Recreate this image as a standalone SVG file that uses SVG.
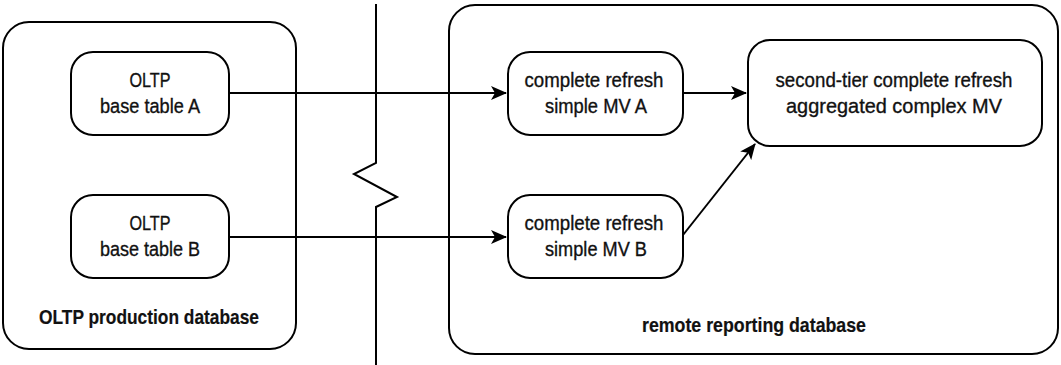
<svg xmlns="http://www.w3.org/2000/svg" width="1061" height="365" viewBox="0 0 1061 365">
<style>
.box{fill:#fff;stroke:#000;stroke-width:2}
.t{font-family:"Liberation Sans",Arial,sans-serif;font-size:20.5px;text-anchor:middle;fill:#111;stroke:#111;stroke-width:0.35}
.b{font-weight:bold;stroke-width:0.2}
.c{fill:none;stroke:#000;stroke-width:2}
</style>
<defs>
<marker id="ah" viewBox="0 0 16 14" refX="15" refY="7" markerWidth="16" markerHeight="14" markerUnits="userSpaceOnUse" orient="auto">
<path d="M0,0 L16,7 L0,14 L4,7 Z" fill="#000"/>
</marker>
</defs>
<rect width="1061" height="365" fill="#fff"/>
<g id="oltp-db">
<rect class="box" x="3" y="22" width="293" height="327" rx="26"/>
<text class="t b" x="149" y="324" textLength="220" lengthAdjust="spacingAndGlyphs">OLTP production database</text>
</g>
<g id="remote-db">
<rect class="box" x="449" y="5" width="609" height="349" rx="26"/>
<text class="t b" x="754" y="332" textLength="224" lengthAdjust="spacingAndGlyphs">remote reporting database</text>
</g>
<g id="separator">
<path class="c" d="M376,4 V163 L354,174 L397,197 L376,207 V365"/>
</g>
<g id="base-a">
<rect class="box" x="71" y="52" width="158" height="83" rx="22"/>
<text class="t" x="150" y="87" textLength="41" lengthAdjust="spacingAndGlyphs">OLTP</text>
<text class="t" x="150" y="113" textLength="100" lengthAdjust="spacingAndGlyphs">base table A</text>
</g>
<g id="base-b">
<rect class="box" x="71" y="195" width="158" height="83" rx="22"/>
<text class="t" x="150" y="230" textLength="41" lengthAdjust="spacingAndGlyphs">OLTP</text>
<text class="t" x="150" y="256" textLength="100" lengthAdjust="spacingAndGlyphs">base table B</text>
</g>
<g id="mv-a">
<rect class="box" x="508" y="52" width="175" height="83" rx="22"/>
<text class="t" x="594" y="87" textLength="139" lengthAdjust="spacingAndGlyphs">complete refresh</text>
<text class="t" x="596" y="113" textLength="102" lengthAdjust="spacingAndGlyphs">simple MV A</text>
</g>
<g id="mv-b">
<rect class="box" x="508" y="195" width="175" height="83" rx="22"/>
<text class="t" x="594" y="230" textLength="139" lengthAdjust="spacingAndGlyphs">complete refresh</text>
<text class="t" x="596" y="256" textLength="102" lengthAdjust="spacingAndGlyphs">simple MV B</text>
</g>
<g id="complex-mv">
<rect class="box" x="748" y="40" width="294" height="106" rx="22"/>
<text class="t" x="894" y="87" textLength="237" lengthAdjust="spacingAndGlyphs">second-tier complete refresh</text>
<text class="t" x="894" y="113" textLength="216" lengthAdjust="spacingAndGlyphs">aggregated complex MV</text>
</g>
<g id="connectors">
<path class="c" d="M229,93 H506" marker-end="url(#ah)"/>
<path class="c" d="M229,237 H506" marker-end="url(#ah)"/>
<path class="c" d="M683,93 H746" marker-end="url(#ah)"/>
<path class="c" d="M683,235 L755,144" marker-end="url(#ah)"/>
</g>
</svg>
